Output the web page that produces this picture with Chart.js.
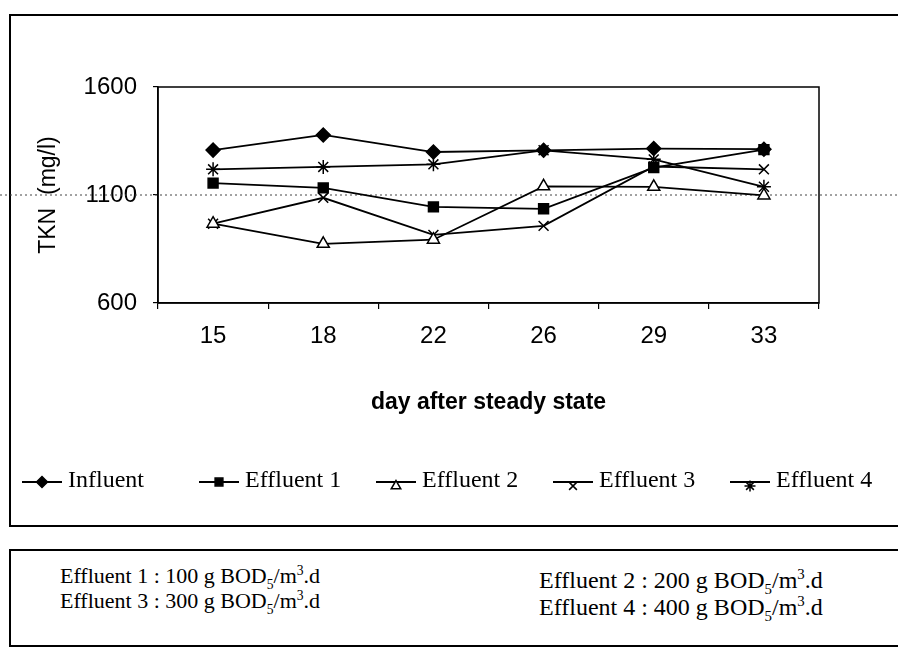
<!DOCTYPE html>
<html>
<head>
<meta charset="utf-8">
<script src="https://cdn.jsdelivr.net/npm/chart.js@4.4.1/dist/chart.umd.min.js"></script>
<style>
body { margin: 0; background: #fff; }
#wrap { position: relative; width: 898px; height: 649px; overflow: hidden; }
#frame { position: absolute; left: 9px; top: 14px; width: 900px; height: 509px;
  border-left: 2px solid #000; border-top: 2px solid #000; border-bottom: 2px solid #000; }
#note { position: absolute; left: 9px; top: 549px; width: 900px; height: 94px;
  border: 2px solid #000; border-right: none; }
#note span { position: absolute; font-family: "Liberation Serif", serif; white-space: nowrap; line-height: 1; }
#note .c1 { font-size: 22px; left: 49px; }
#note .c2 { font-size: 24px; left: 528px; }
sub, sup { font-size: 0.62em; }
canvas { position: absolute; left: 0; top: 0; }
</style>
</head>
<body>
<div id="wrap">
  <div id="frame"></div>
  <div id="note">
    <span class="c1" style="top:13px">Effluent 1 : 100 g BOD<sub>5</sub>/m<sup>3</sup>.d</span>
    <span class="c1" style="top:38px">Effluent 3 : 300 g BOD<sub>5</sub>/m<sup>3</sup>.d</span>
    <span class="c2" style="top:16px">Effluent 2 : 200 g BOD<sub>5</sub>/m<sup>3</sup>.d</span>
    <span class="c2" style="top:43px">Effluent 4 : 400 g BOD<sub>5</sub>/m<sup>3</sup>.d</span>
  </div>
  <canvas id="chart" width="898" height="649"></canvas>
</div>
<script>
// days after steady state
const days = ['15', '18', '22', '26', '29', '33'];

// TKN (mg/l)
const influent  = [1308, 1378, 1299, 1307, 1315, 1312];
const effluent1 = [1155, 1133, 1045, 1036, 1227, 1310];
const effluent2 = [967, 874, 893, 1140, 1138, 1098];
const effluent3 = [967, 1087, 915, 957, 1232, 1219];
const effluent4 = [1219, 1230, 1242, 1307, 1265, 1138];

const yTicks = [600, 1100, 1600];

function series(label, data, style, fill, radius) {
    return {
        label: label,
        data: data,
        borderColor: '#000',
        borderWidth: 1.8,
        pointStyle: style,
        pointRadius: radius,
        pointHoverRadius: radius,
        pointBackgroundColor: fill,
        pointBorderColor: '#000',
        pointBorderWidth: 1.5,
        tension: 0,
        fill: false
    };
}

// dotted 1100 line across the whole sheet + frame of the plot
const framePlugin = {
    id: 'frame',
    beforeDatasetsDraw(chart) {
        const ctx = chart.ctx;
        const a = chart.chartArea;
        const y = chart.scales.y.getPixelForValue(1100);
        ctx.save();
        ctx.strokeStyle = '#444';
        ctx.lineWidth = 1;
        ctx.setLineDash([2, 3]);
        ctx.beginPath();
        ctx.moveTo(0, y);
        ctx.lineTo(chart.width, y);
        ctx.stroke();
        ctx.setLineDash([]);
        ctx.strokeStyle = '#000';
        ctx.lineWidth = 1.5;
        ctx.strokeRect(a.left, a.top, a.right - a.left, a.bottom - a.top);
        ctx.restore();
    }
};

// legend: line + marker + label, one slot per series
const legendPlugin = {
    id: 'lineLegend',
    afterDraw(chart) {
        const ctx = chart.ctx;
        const sets = chart.data.datasets;
        const seg = 40, pitch = 177, y = 482;
        ctx.save();
        ctx.font = '24px "Liberation Serif"';
        sets.forEach((d, i) => {
            const x = 22 + i * pitch;
            ctx.strokeStyle = '#000';
            ctx.lineWidth = 1.8;
            ctx.beginPath();
            ctx.moveTo(x, y);
            ctx.lineTo(x + seg, y);
            ctx.stroke();
            // the last three symbols sit a little under the line
            const dy = i >= 2 ? 4 : 0;
            ctx.fillStyle = d.pointBackgroundColor;
            ctx.lineWidth = 1.5;
            Chart.helpers.drawPoint(ctx, { pointStyle: d.pointStyle, radius: 5.5, rotation: 0, borderWidth: 1.5 }, x + seg / 2, y + dy);
            ctx.fillStyle = '#000';
            ctx.textAlign = 'left';
            ctx.textBaseline = 'middle';
            ctx.fillText(d.label, x + seg + 6, y - 1);
        });
        ctx.restore();
    }
};

new Chart(document.getElementById('chart'), {
    type: 'line',
    data: {
        labels: days,
        datasets: [
            series('Influent', influent, 'rectRot', '#000', 7),
            series('Effluent 1', effluent1, 'rect', '#000', 7),
            series('Effluent 2', effluent2, 'triangle', '#fff', 7),
            series('Effluent 3', effluent3, 'crossRot', '#000', 7),
            series('Effluent 4', effluent4, 'star', '#000', 7)
        ]
    },
    options: {
        responsive: false,
        animation: false,
        layout: { padding: { left: 35, top: 87, right: 79, bottom: 233 } },
        plugins: { legend: { display: false }, tooltip: { enabled: false } },
        scales: {
            x: {
                offset: true,
                grid: { offset: true, drawOnChartArea: false, drawTicks: true, tickLength: 6, color: '#000', lineWidth: 1.2 },
                border: { display: true, color: '#000', width: 1.5 },
                ticks: { color: '#000', padding: 13, font: { family: 'Liberation Sans', size: 24 } },
                title: {
                    display: true, text: 'day after steady state', color: '#000',
                    padding: { top: 0, bottom: 0 },
                    font: { family: 'Liberation Sans', size: 23, weight: 'bold' }
                },
                afterFit(scale) { scale.height = 113; }
            },
            y: {
                min: 600, max: 1600,
                afterBuildTicks(scale) { scale.ticks = yTicks.map(v => ({ value: v })); },
                grid: { drawOnChartArea: false, drawTicks: true, tickLength: 5, color: '#000', lineWidth: 1.2 },
                border: { display: true, color: '#000', width: 1.5 },
                ticks: {
                    color: '#000', padding: 16,
                    font: { family: 'Liberation Sans', size: 24 },
                    callback: v => String(v)
                },
                title: {
                    display: true, text: 'TKN  (mg/l)', color: '#000',
                    padding: { top: 0, bottom: 0 },
                    font: { family: 'Liberation Sans', size: 23 }
                },
                afterFit(scale) { scale.width = 123; }
            }
        }
    },
    plugins: [framePlugin, legendPlugin]
});
</script>
</body>
</html>
